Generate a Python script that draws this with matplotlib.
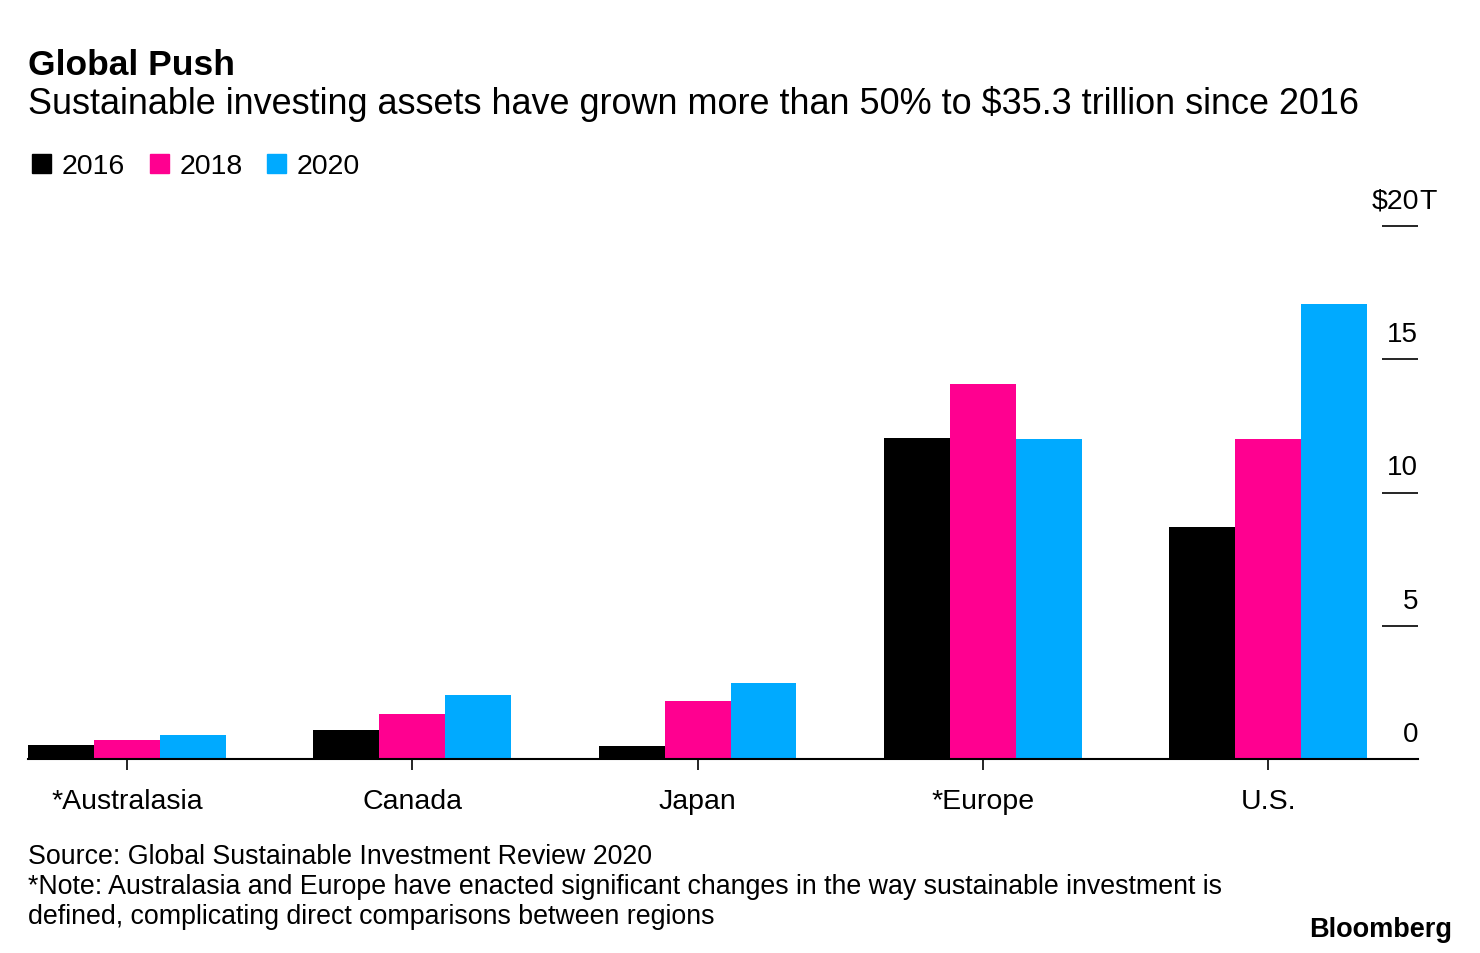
import matplotlib.pyplot as plt
import numpy as np

plt.rcParams['font.family'] = ['Liberation Sans', 'DejaVu Sans']

# GSIR 2020 figures, trillions of USD
regions = ["*Australasia", "Canada", "Japan", "*Europe", "U.S."]
years = ["2016", "2018", "2020"]
assets_2016 = [0.52, 1.09, 0.47, 12.04, 8.72]
assets_2018 = [0.73, 1.70, 2.18, 14.08, 12.00]
assets_2020 = [0.91, 2.42, 2.87, 12.02, 17.08]
yticks = [0, 5, 10, 15, 20]

colors = ["#000000", "#ff0090", "#00aaff"]

W, H = 1480, 954
fig = plt.figure(figsize=(W / 100, H / 100), dpi=100)

def fy(px):
    return 1 - px / H

ax = fig.add_axes([28 / W, 1 - 760 / H, 1390 / W, (760 - 227) / H])

x = np.arange(len(regions))
bw = 0.231
for i, vals in enumerate([assets_2016, assets_2018, assets_2020]):
    ax.bar(x + (i - 1) * bw, vals, width=bw, color=colors[i], linewidth=0)

ax.set_xlim(-0.347, 4.525)
ax.set_ylim(0, 20)
for s in ["top", "left", "right"]:
    ax.spines[s].set_visible(False)
ax.spines["bottom"].set_linewidth(1.5)

ax.set_xticks(x)
ax.set_xticklabels(regions, fontsize=20.5)
ax.tick_params(axis="x", length=8, width=1.2, pad=13)

ax.yaxis.tick_right()
ax.set_yticks(yticks)
ax.set_yticklabels([])
ax.tick_params(axis="y", direction="in", length=26, width=1.2)

for v in yticks:
    if v == 20:
        ax.annotate("$20", xy=(1, v), xycoords=("axes fraction", "data"),
                    xytext=(1, 13), textcoords="offset points",
                    ha="right", va="baseline", fontsize=20.5)
        ax.annotate("T", xy=(1, v), xycoords=("axes fraction", "data"),
                    xytext=(1, 13), textcoords="offset points",
                    ha="left", va="baseline", fontsize=20.5)
    else:
        ax.annotate(str(v), xy=(1, v), xycoords=("axes fraction", "data"),
                    xytext=(0, 13), textcoords="offset points",
                    ha="right", va="baseline", fontsize=20)

fig.text(28 / W, fy(75), "Global Push", fontsize=25.5, fontweight="bold", va="baseline")
fig.text(28 / W, fy(114), "Sustainable investing assets have grown more than 50% to $35.3 trillion since 2016",
         fontsize=25.9, va="baseline")

# legend
for yr, c, tx in zip(years, colors, [62, 180, 297]):
    fig.patches.append(plt.Rectangle(((tx - 30) / W, fy(174)), 19 / W, 19 / H,
                                     transform=fig.transFigure, color=c))
    fig.text(tx / W, fy(174), yr, fontsize=20.5, va="baseline")

fig.text(28 / W, fy(864), "Source: Global Sustainable Investment Review 2020", fontsize=19.3, va="baseline")
fig.text(28 / W, fy(894), "*Note: Australasia and Europe have enacted significant changes in the way sustainable investment is",
         fontsize=19.3, va="baseline")
fig.text(28 / W, fy(924), "defined, complicating direct comparisons between regions", fontsize=19.3, va="baseline")
fig.text(1452 / W, fy(937), "Bloomberg", fontsize=19.5, fontweight="bold", ha="right", va="baseline")

fig.savefig("out.png", dpi=100)
